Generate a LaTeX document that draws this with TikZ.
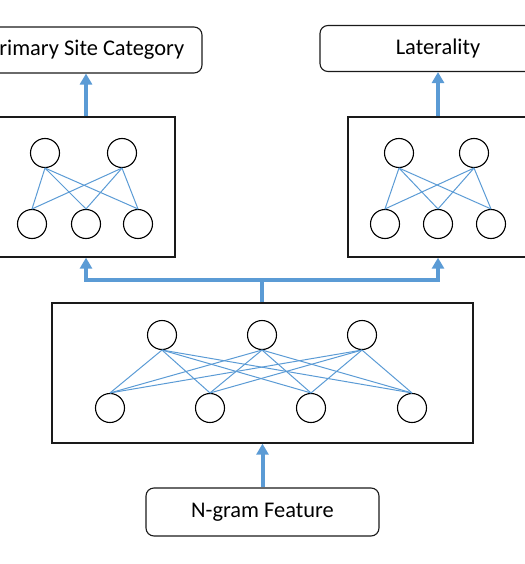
\documentclass[tikz,border=0pt]{standalone}
\usepackage{fontspec}
\setmainfont{Carlito}
\usetikzlibrary{arrows.meta,positioning}
\definecolor{linkblue}{HTML}{5B9BD5}
\definecolor{boxink}{HTML}{1A1A1A}
\newcommand{\lbfont}{\fontsize{22.5}{26}\selectfont}

\begin{document}
\begin{tikzpicture}[x=1bp, y=-1bp,
  io/.style={draw=boxink, rounded corners=8bp, line width=1.1bp, minimum height=46bp, inner sep=0pt, font=\lbfont},
  net/.style={draw=boxink, line width=1.3bp, inner sep=0pt},
  unit/.style={circle, draw=black, line width=1.1bp, minimum size=29bp, inner sep=0pt, fill=white},
  link/.style={linkblue, line width=1bp},
  bus/.style={linkblue, line width=4bp},
  flow/.style={bus, -{Triangle[length=11bp,width=12bp]}}]
\useasboundingbox (0,0) rectangle (525,564);

% ================================================================== outputs
\node[io, minimum width=232bp] (site) at (86,50) {Primary Site Category};
\node[io, minimum width=236bp] (lat) at (438,48.5) {Laterality};

% ================================================================== task heads
\node[net, minimum width=178bp, minimum height=140bp] (headA) at (86,187) {};
\node[net, minimum width=180bp, minimum height=140bp] (headB) at (438,187) {};
\foreach \x [count=\i] in {45,122}{ \node[unit] (a\i) at (\x,153) {}; }
\foreach \x [count=\i] in {32,86,138}{ \node[unit] (b\i) at (\x,224) {}; }
\foreach \x [count=\i] in {399,474}{ \node[unit] (c\i) at (\x,153) {}; }
\foreach \x [count=\i] in {385,438,491}{ \node[unit] (d\i) at (\x,224) {}; }
\foreach \i in {1,2}{
  \foreach \j in {1,2,3}{
    \draw[link] (a\i.south) -- (b\j.north);
    \draw[link] (c\i.south) -- (d\j.north);
  }
}

% ================================================================== shared layer
\node[net, minimum width=421bp, minimum height=140bp] (shared) at (262.5,373) {};
\foreach \x [count=\i] in {162,262,362}{ \node[unit] (s\i) at (\x,335) {}; }
\foreach \x [count=\i] in {110,210,311,412}{ \node[unit] (t\i) at (\x,408) {}; }
\foreach \i in {1,2,3}{
  \foreach \j in {1,...,4}{ \draw[link] (s\i.south) -- (t\j.north); }
}

% ================================================================== input
\node[io, minimum width=233bp, minimum height=48bp] (ngram) at (262.5,512) {N-gram Feature};

% ================================================================== arrows
\coordinate (fork) at (262,280);
\draw[bus] (shared.north -| fork) -- (fork);
\draw[flow] (fork) -| (headA.south);
\draw[flow] (fork) -| (headB.south);
\draw[flow] (headA.north) -- (site.south);
\draw[flow] (headB.north) -- (lat.south);
\draw[flow] (ngram.north) -- (shared.south);
\end{tikzpicture}
\end{document}
